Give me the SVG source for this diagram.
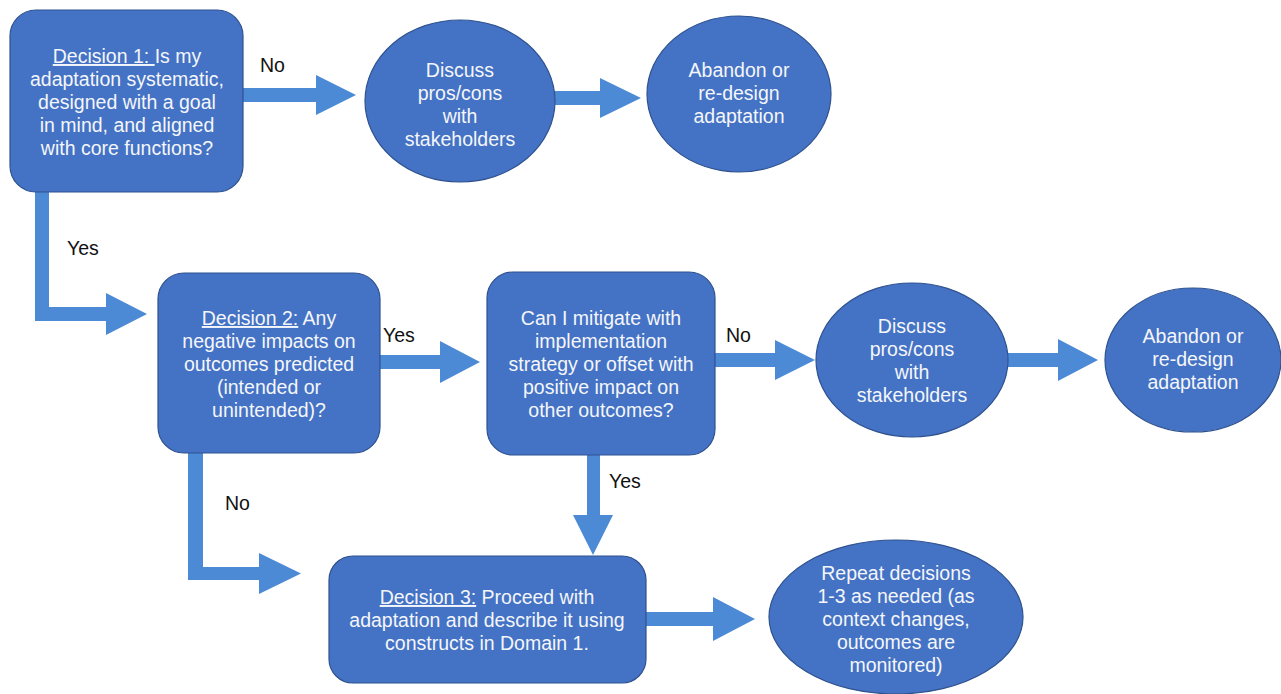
<svg xmlns="http://www.w3.org/2000/svg" width="1281" height="694" viewBox="0 0 1281 694">
<style>
.box{fill:#4472C4;stroke:#2F528F;stroke-width:1.2}
.t{font-family:"Liberation Sans",Arial,sans-serif;font-size:19.5px;fill:#F4F6FA;text-anchor:middle}
.lbl{font-family:"Liberation Sans",Arial,sans-serif;font-size:19.5px;fill:#111}
.arr{fill:#4C8AD6}
.u{text-decoration:underline}
</style>
<rect width="1281" height="694" fill="#FFFFFF"/>
<g id="connectors">
<polygon class="arr" points="243,88 316,88 316,75 356,95 316,115 316,102 243,102"/>
<polygon class="arr" points="555,91 600,91 600,78 641,98 600,118 600,105 555,105"/>
<polygon class="arr" points="35,192 49,192 49,307 106,307 106,293 147,314 106,335 106,321 35,321"/>
<polygon class="arr" points="380,355 440,355 440,341 480,362 440,383 440,369 380,369"/>
<polygon class="arr" points="715,353 775,353 775,340 815,360 775,380 775,367 715,367"/>
<polygon class="arr" points="1008,353 1058,353 1058,339 1098,360 1058,381 1058,367 1008,367"/>
<polygon class="arr" points="188,453 203,453 203,567 259,567 259,553 301,573.5 259,594 259,580 188,580"/>
<polygon class="arr" points="587,455 600,455 600,515 613,515 593,555 573,515 587,515"/>
<polygon class="arr" points="646,612 713,612 713,597 755,619 713,641 713,626 646,626"/>
<text class="lbl" x="260" y="72">No</text>
<text class="lbl" x="67" y="255">Yes</text>
<text class="lbl" x="383" y="342">Yes</text>
<text class="lbl" x="726" y="342">No</text>
<text class="lbl" x="225" y="510">No</text>
<text class="lbl" x="609" y="488">Yes</text>
</g>
<g id="decision1">
<rect class="box" x="10" y="10" width="233" height="182" rx="26"/>
<text class="t" x="127" y="63"><tspan class="u">Decision 1: </tspan>Is my</text>
<text class="t" x="127" y="86">adaptation systematic,</text>
<text class="t" x="127" y="109">designed with a goal</text>
<text class="t" x="127" y="132">in mind, and aligned</text>
<text class="t" x="127" y="155">with core functions?</text>
</g>
<g id="discuss1">
<ellipse class="box" cx="460" cy="101" rx="95" ry="81"/>
<text class="t" x="460" y="77">Discuss</text>
<text class="t" x="460" y="100">pros/cons</text>
<text class="t" x="460" y="123">with</text>
<text class="t" x="460" y="146">stakeholders</text>
</g>
<g id="abandon1">
<ellipse class="box" cx="739" cy="94" rx="92" ry="78"/>
<text class="t" x="739" y="77">Abandon or</text>
<text class="t" x="739" y="100">re-design</text>
<text class="t" x="739" y="123">adaptation</text>
</g>
<g id="decision2">
<rect class="box" x="158" y="273" width="222" height="180" rx="26"/>
<text class="t" x="269" y="325"><tspan class="u">Decision 2:</tspan> Any</text>
<text class="t" x="269" y="348">negative impacts on</text>
<text class="t" x="269" y="371">outcomes predicted</text>
<text class="t" x="269" y="394">(intended or</text>
<text class="t" x="269" y="417">unintended)?</text>
</g>
<g id="mitigate">
<rect class="box" x="487" y="272" width="228" height="183" rx="26"/>
<text class="t" x="601" y="325">Can I mitigate with</text>
<text class="t" x="601" y="348">implementation</text>
<text class="t" x="601" y="371">strategy or offset with</text>
<text class="t" x="601" y="394">positive impact on</text>
<text class="t" x="601" y="417">other outcomes?</text>
</g>
<g id="discuss2">
<ellipse class="box" cx="912" cy="360" rx="96" ry="77"/>
<text class="t" x="912" y="333">Discuss</text>
<text class="t" x="912" y="356">pros/cons</text>
<text class="t" x="912" y="379">with</text>
<text class="t" x="912" y="402">stakeholders</text>
</g>
<g id="abandon2">
<ellipse class="box" cx="1193" cy="360" rx="88" ry="72"/>
<text class="t" x="1193" y="343">Abandon or</text>
<text class="t" x="1193" y="366">re-design</text>
<text class="t" x="1193" y="389">adaptation</text>
</g>
<g id="decision3">
<rect class="box" x="329" y="556" width="317" height="127" rx="24"/>
<text class="t" x="487" y="604"><tspan class="u">Decision 3:</tspan> Proceed with</text>
<text class="t" x="487" y="627">adaptation and describe it using</text>
<text class="t" x="487" y="650">constructs in Domain 1.</text>
</g>
<g id="repeat">
<ellipse class="box" cx="896" cy="617" rx="127" ry="77"/>
<text class="t" x="896" y="580">Repeat decisions</text>
<text class="t" x="896" y="603">1-3 as needed (as</text>
<text class="t" x="896" y="626">context changes,</text>
<text class="t" x="896" y="649">outcomes are</text>
<text class="t" x="896" y="672">monitored)</text>
</g>
</svg>
